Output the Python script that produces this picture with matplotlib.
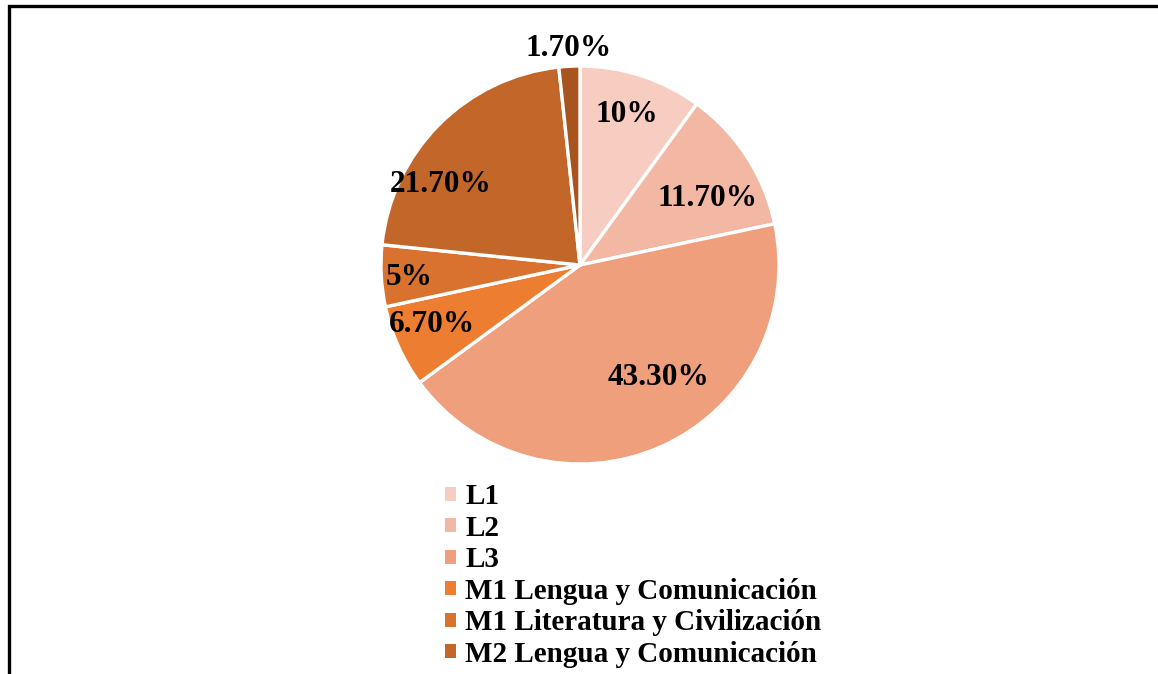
import matplotlib
matplotlib.use("Agg")
import matplotlib.pyplot as plt
from matplotlib.patches import Rectangle, Patch
import numpy as np

categories = ["L1", "L2", "L3", "M1 Lengua y Comunicación",
              "M1 Literatura y Civilización", "M2 Lengua y Comunicación", ""]
values = [10, 11.7, 43.3, 6.7, 5, 21.7, 1.7]
value_labels = ["10%", "11.70%", "43.30%", "6.70%", "5%", "21.70%", "1.70%"]
colors = ["#F7CDC1", "#F3B8A3", "#EF9F7C", "#ED7D31", "#D9712F", "#C3662A", "#A8541F"]

# label placement (angle deg, radius fraction) - layout only
label_polar = [(72.8, 0.79), (27.5, 0.72), (-55, 0.69), (201.8, 0.80),
               (184.3, 0.86), (150, 0.81), (93.1, 1.09)]

W, H = 1158, 674
fig = plt.figure(figsize=(W / 100, H / 100), dpi=100)
plt.rcParams['font.family'] = ['Liberation Serif', 'DejaVu Serif']

cx, cy, r = 580, H - 265, 199
ax = fig.add_axes([(cx - r) / W, (cy - r) / H, 2 * r / W, 2 * r / H])
wedges, _ = ax.pie(values, colors=colors, startangle=90, counterclock=False,
                   wedgeprops=dict(edgecolor="white", linewidth=2.4), radius=1)
ax.set_xlim(-1, 1)
ax.set_ylim(-1, 1)
ax.axis("off")

for txt, (ang, rf) in zip(value_labels, label_polar):
    a = np.deg2rad(ang)
    ax.text(rf * np.cos(a), rf * np.sin(a), txt, ha="center", va="center",
            fontsize=22.5, fontweight="bold", color="black", clip_on=False)

handles = [Patch(facecolor=c, edgecolor="none") for c in colors[:6]]
fig.legend(handles, categories[:6], loc="upper left",
           bbox_to_anchor=(445 / W, 1 - 483 / H), frameon=False,
           prop=dict(family=['Liberation Serif'], weight="bold", size=21),
           handlelength=0.36, handleheight=0.36, handletextpad=0.34,
           labelspacing=0.155, borderpad=0, borderaxespad=0)

# outer chart frame (extends beyond the image on right and bottom)
fig.patches.append(Rectangle((9 / W, -0.1), 1.2, 1 - 6 / H + 0.1,
                             transform=fig.transFigure, fill=False,
                             edgecolor="black", linewidth=2.4))

fig.savefig("out.png", dpi=100)
